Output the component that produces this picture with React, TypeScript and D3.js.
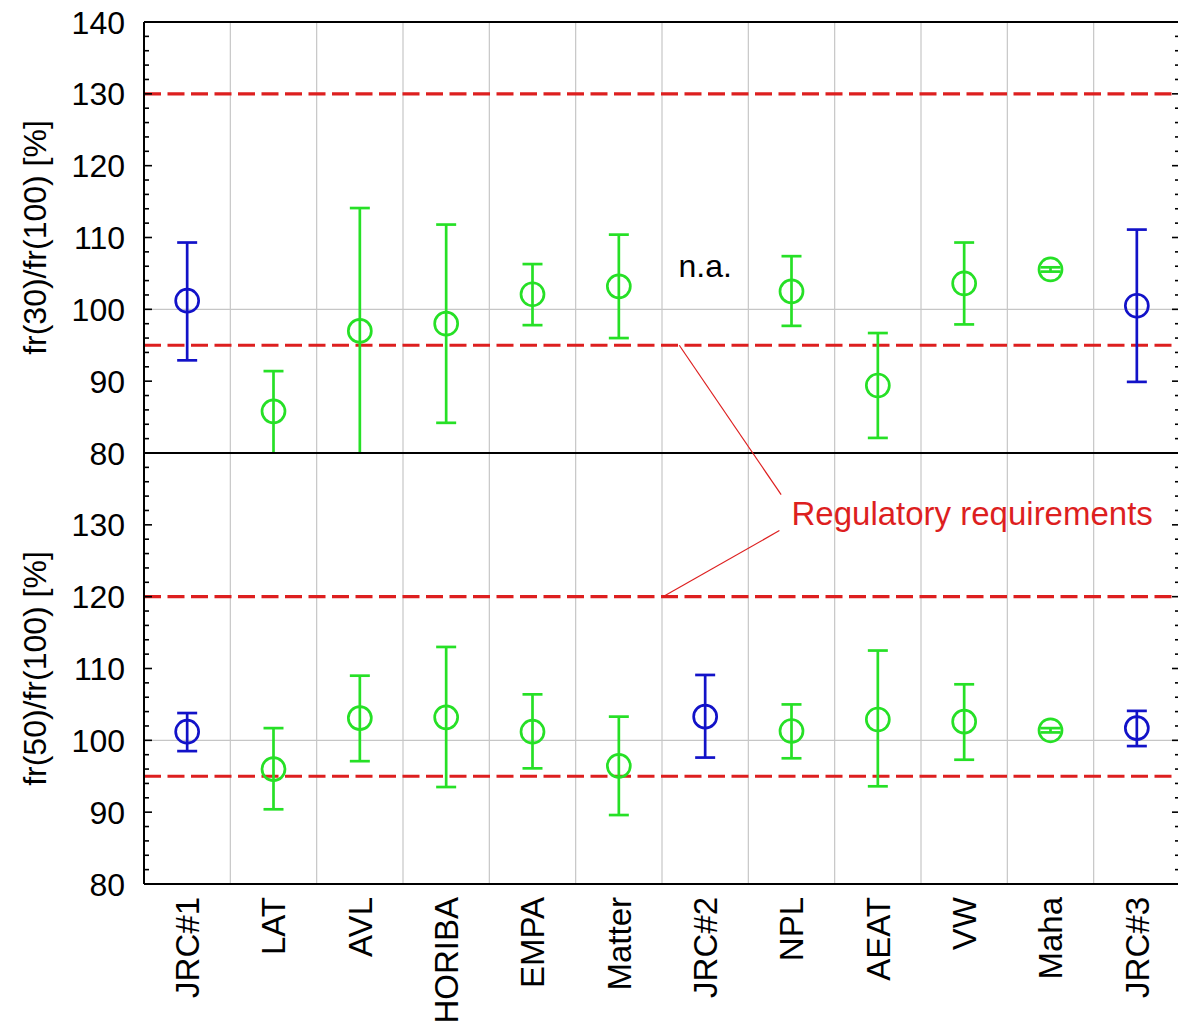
import React from "react";
import * as d3 from "d3";

// Participating laboratories, in measurement order
const categories = ["JRC#1", "LAT", "AVL", "HORIBA", "EMPA", "Matter", "JRC#2", "NPL", "AEAT", "VW", "Maha", "JRC#3"];
// JRC reference runs are drawn in blue, the other labs in green
const isReference = [true, false, false, false, false, false, true, false, false, false, false, true];

// fr(30)/fr(100) [%] — JRC#2 not available
const fr30Mean = [101.2, 85.8, 97.0, 98.0, 102.1, 103.2, null, 102.5, 89.4, 103.6, 105.55, 100.5];
const fr30Low = [92.9, 79.5, 79.9, 84.2, 97.8, 96.0, null, 97.7, 82.1, 97.9, 105.25, 89.9];
const fr30High = [109.3, 91.4, 114.1, 111.8, 106.3, 110.4, null, 107.4, 96.7, 109.3, 105.85, 111.1];

// fr(50)/fr(100) [%]
const fr50Mean = [101.2, 96.0, 103.1, 103.2, 101.2, 96.45, 103.3, 101.3, 102.9, 102.6, 101.4, 101.7];
const fr50Low = [98.5, 90.4, 97.1, 93.5, 96.1, 89.6, 97.6, 97.5, 93.6, 97.3, 101.1, 99.2];
const fr50High = [103.8, 101.7, 109.0, 113.0, 106.4, 103.3, 109.1, 105.0, 112.5, 107.8, 101.7, 104.1];

// Regulatory limits for each ratio
const fr30Limits = [95, 130];
const fr50Limits = [95, 120];

const yDomain = [80, 140];
const majorTicks = [80, 90, 100, 110, 120, 130, 140];
const minorTicks = d3.range(80, 141, 2).filter((v) => v % 10 !== 0);

const W = 1178;
const H = 1025;
const FONT = "Arial, 'Liberation Sans', Helvetica, sans-serif";
const BLUE = "#1212c8";
const GREEN = "#26e026";
const RED = "#dd1f1f";
const GRID = "#c6c6c6";

const x = d3.scaleLinear().domain([0, categories.length]).range([144, 1180]);
const yTop = d3.scaleLinear().domain(yDomain).range([453, 22]);
const yBot = d3.scaleLinear().domain(yDomain).range([884, 453]);

type PanelProps = {
  id: string;
  y: d3.ScaleLinear<number, number>;
  mean: (number | null)[];
  low: (number | null)[];
  high: (number | null)[];
  limits: number[];
  labelTicks: number[];
};

function Panel({ id, y, mean, low, high, limits, labelTicks }: PanelProps) {
  const [x0, x1] = x.range();
  const [yb, yt] = y.range();
  const capHalf = 10;
  const r = 11.5;
  return (
    <g>
      <defs>
        <clipPath id={id}>
          <rect x={x0} y={yt} width={x1 - x0} height={yb - yt} />
        </clipPath>
      </defs>
      {/* grid */}
      {d3.range(1, categories.length).map((i) => (
        <line key={"v" + i} x1={x(i)} x2={x(i)} y1={yt} y2={yb} stroke={GRID} strokeWidth={1.2} />
      ))}
      <line x1={x0} x2={x1} y1={y(100)} y2={y(100)} stroke={GRID} strokeWidth={1.2} />
      {/* regulatory limits */}
      {limits.map((v) => (
        <line key={"l" + v} x1={x0} x2={x1} y1={y(v)} y2={y(v)} stroke={RED} strokeWidth={3.2} strokeDasharray="17 6.5" />
      ))}
      {/* error bars and markers */}
      <g clipPath={`url(#${id})`}>
        {categories.map((c, i) => {
          const m = mean[i];
          const lo = low[i];
          const hi = high[i];
          if (m == null || lo == null || hi == null) return null;
          const cx = x(i + 0.5);
          const col = isReference[i] ? BLUE : GREEN;
          return (
            <g key={c} stroke={col} strokeWidth={2.7} fill="none">
              <line x1={cx} x2={cx} y1={y(lo)} y2={y(hi)} />
              <line x1={cx - capHalf} x2={cx + capHalf} y1={y(lo)} y2={y(lo)} />
              <line x1={cx - capHalf} x2={cx + capHalf} y1={y(hi)} y2={y(hi)} />
              <circle cx={cx} cy={y(m)} r={r} />
            </g>
          );
        })}
      </g>
      {/* axes */}
      <line x1={x0} x2={x0} y1={yt} y2={yb} stroke="#000" strokeWidth={2} />
      <line x1={x0} x2={x1} y1={yt} y2={yt} stroke="#000" strokeWidth={2} />
      <line x1={x0} x2={x1} y1={yb} y2={yb} stroke="#000" strokeWidth={2} />
      {majorTicks.map((v) => (
        <g key={"M" + v}>
          <line x1={x0} x2={x0 + 8} y1={y(v)} y2={y(v)} stroke="#000" strokeWidth={1.6} />
          <line x1={x1} x2={x1 - 8} y1={y(v)} y2={y(v)} stroke="#000" strokeWidth={1.6} />
        </g>
      ))}
      {minorTicks.map((v) => (
        <g key={"m" + v}>
          <line x1={x0} x2={x0 + 5} y1={y(v)} y2={y(v)} stroke="#000" strokeWidth={1.6} />
          <line x1={x1} x2={x1 - 5} y1={y(v)} y2={y(v)} stroke="#000" strokeWidth={1.6} />
        </g>
      ))}
      {labelTicks.map((v) => (
        <text key={"t" + v} x={x0 - 19} y={y(v)} dy="0.36em" textAnchor="end" fontSize={32} fontFamily={FONT} fill="#000">
          {v}
        </text>
      ))}
    </g>
  );
}

export default function App() {
  const yLabelX = 34;
  return (
    <svg
      width={W}
      height={H}
      viewBox={`0 0 ${W} ${H}`}
      style={{ position: "absolute", left: 0, top: 0, background: "#fff", overflow: "hidden" }}
    >
      <rect width={W} height={H} fill="#fff" />
      <Panel id="clip-top" y={yTop} mean={fr30Mean} low={fr30Low} high={fr30High} limits={fr30Limits} labelTicks={majorTicks} />
      <Panel id="clip-bot" y={yBot} mean={fr50Mean} low={fr50Low} high={fr50High} limits={fr50Limits} labelTicks={majorTicks.slice(0, -1)} />

      {/* not available marker for JRC#2 */}
      <text x={x(6.5)} y={yTop(104.5)} textAnchor="middle" fontSize={32} fontFamily={FONT} fill="#000">
        n.a.
      </text>

      {/* regulatory requirements annotation */}
      <line x1={x(6.2)} y1={yTop(95)} x2={x(7.38)} y2={yBot(134.2)} stroke={RED} strokeWidth={1.2} />
      <line x1={x(6.01)} y1={yBot(120)} x2={x(7.36)} y2={yBot(129.2)} stroke={RED} strokeWidth={1.2} />
      <text x={x(7.5)} y={yBot(130)} fontSize={33} fontFamily={FONT} fill={RED}>
        Regulatory requirements
      </text>

      {/* y axis titles */}
      <text
        transform={`translate(${yLabelX},${(yTop.range()[0] + yTop.range()[1]) / 2}) rotate(-90)`}
        textAnchor="middle"
        dy="0.36em"
        fontSize={32}
        fontFamily={FONT}
        fill="#000"
      >
        fr(30)/fr(100) [%]
      </text>
      <text
        transform={`translate(${yLabelX},${(yBot.range()[0] + yBot.range()[1]) / 2}) rotate(-90)`}
        textAnchor="middle"
        dy="0.36em"
        fontSize={32}
        fontFamily={FONT}
        fill="#000"
      >
        fr(50)/fr(100) [%]
      </text>

      {/* category labels */}
      {categories.map((c, i) => (
        <text
          key={c}
          transform={`translate(${x(i + 0.5)},897) rotate(-90)`}
          textAnchor="end"
          dy="0.36em"
          fontSize={33}
          fontFamily={FONT}
          fill="#000"
        >
          {c}
        </text>
      ))}
    </svg>
  );
}
